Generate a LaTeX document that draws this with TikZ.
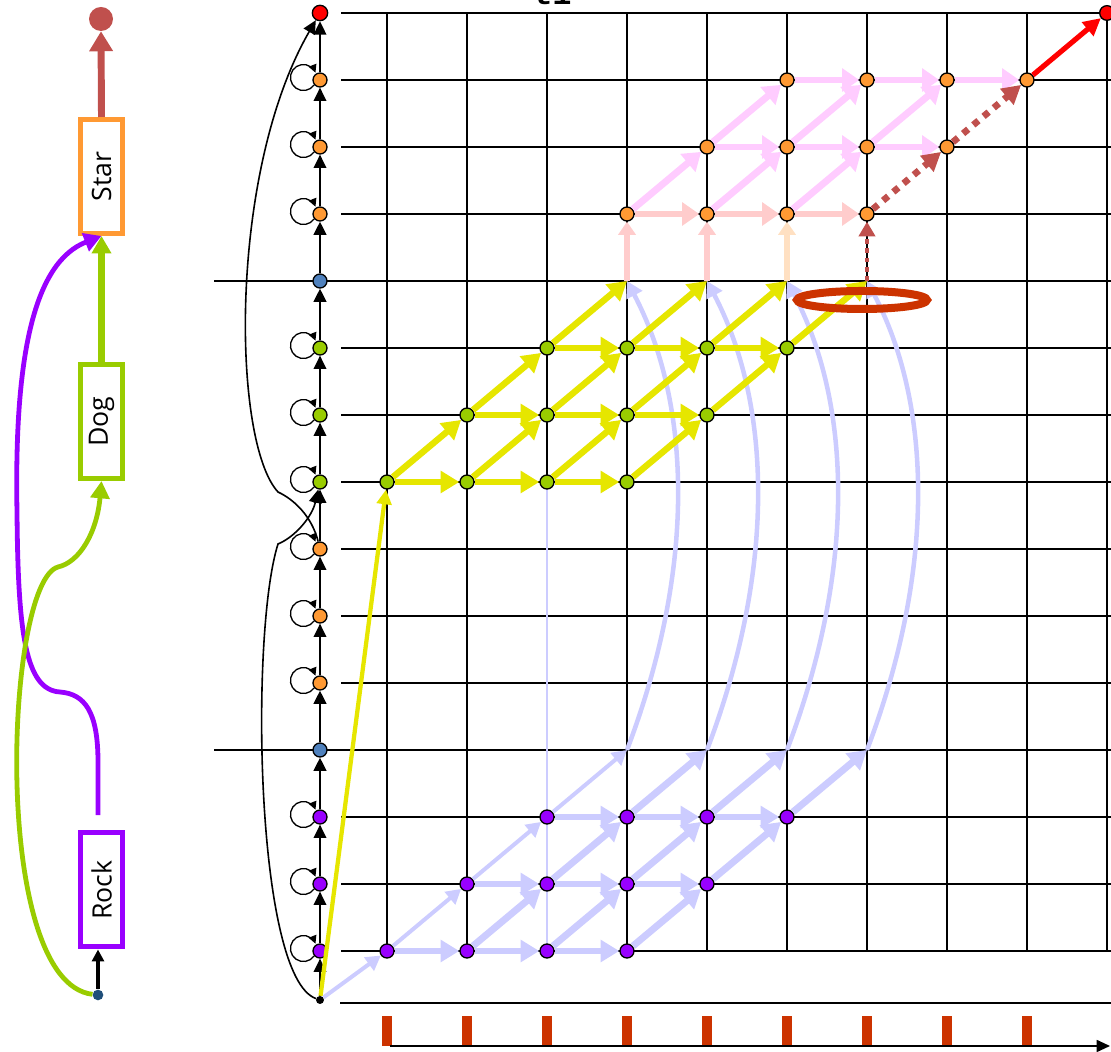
\documentclass[tikz,border=0pt]{standalone}
\usepackage{fontspec}
\setsansfont{Open Sans}
\newfontfamily\monofnt{Liberation Mono}
\usetikzlibrary{arrows.meta,calc}
\definecolor{cPurple}{HTML}{9900FF}
\definecolor{cGreen}{HTML}{99CC00}
\definecolor{cOrange}{HTML}{FF9933}
\definecolor{cBlue}{HTML}{4F81BD}
\definecolor{cLav}{HTML}{CCCCFF}
\definecolor{cYel}{HTML}{E6E600}
\definecolor{cSalmon}{HTML}{FFCCCC}
\definecolor{cPink}{HTML}{FFCCFF}
\definecolor{cPeach}{HTML}{FFE0C2}
\definecolor{cDkRed}{HTML}{C0504D}
\definecolor{cRust}{HTML}{CC3300}
\definecolor{cNavy}{HTML}{1F4E79}
\begin{document}
\begin{tikzpicture}[x=0.75pt,y=0.75pt,
  gl/.style={line width=1.3pt},
  dot/.style={circle,draw=black,line width=1pt,inner sep=0pt,minimum size=10.5pt},
  blk/.style={line width=1.2pt,-{Triangle[length=10pt,width=9.5pt]}},
  blkthick/.style={blk,line width=1.8pt},
  lp/.style={line width=1pt,-{Triangle[length=6pt,width=6pt]}},
  lav/.style={draw=cLav,line width=5.2pt,-{Triangle[length=14pt,width=16pt]}},
  lavthin/.style={draw=cLav,line width=3pt,-{Triangle[length=11pt,width=12pt]}},
  lavS/.style={draw=cLav,line width=3.4pt,-{Triangle[length=12pt,width=13pt]}},
  yel/.style={draw=cYel,line width=4.8pt,-{Triangle[length=14pt,width=16pt]}},
  yelthin/.style={draw=cYel,line width=3.2pt,-{Triangle[length=11pt,width=11pt]}},
  sal/.style={draw=cSalmon,line width=5.2pt,-{Triangle[length=13pt,width=17pt]}},
  salv/.style={line width=4.5pt,-{Triangle[length=10pt,width=13pt]}},
  pnk/.style={draw=cPink,line width=5.2pt,-{Triangle[length=13pt,width=17pt]}},
  dotd/.style={draw=cDkRed,line width=5pt,dash pattern=on 5pt off 5pt,-{Triangle[length=14pt,width=15pt]}},
  dotv/.style={draw=cDkRed,line width=3.5pt,dash pattern=on 3.5pt off 3.5pt,-{Triangle[length=11pt,width=12pt]}},
  boxst/.style={draw,line width=3.75pt,fill=white,inner sep=0pt,minimum width=31.5pt,minimum height=85.5pt}
]
\useasboundingbox (0,0) rectangle (1111,1052);

% title fragment
\node[anchor=base west,inner sep=0pt,font=\monofnt\bfseries\fontsize{24}{24}\selectfont] (t1) at (533,1047) {t1};

% grid
\foreach \rr in {0,1,2,4,5,6,7,8,9,11,12,13,14} \draw[gl] (341,{101+67*\rr}) -- (1111,{101+67*\rr});
\foreach \rr in {3,10} \draw[gl] (214,{101+67*\rr}) -- (1111,{101+67*\rr});
\foreach \k in {0,...,9} \draw[gl] ({387+80*\k},101) -- ({387+80*\k},1039);
\coordinate (vbot) at (547,101);
\coordinate (vtop) at (547,570);
\draw[cLav,line width=1.4pt] (vbot) -- (vtop);

% time axis
\draw[gl] (340,49) -- (1111,49);
\foreach \k in {0,...,8} \fill[cRust] ({387+80*\k-5},6) rectangle ({387+80*\k+5},36);
\draw[gl,-{Triangle[length=10pt,width=9pt]}] (390,6) -- (1110,6);

% left column nodes
\node[circle,fill=black,inner sep=0pt,minimum size=6pt] (L) at (320,52) {};
\foreach \rr/\cl in {0/cPurple,1/cPurple,2/cPurple,3/cBlue,4/cOrange,5/cOrange,6/cOrange,7/cGreen,8/cGreen,9/cGreen,10/cBlue,11/cOrange,12/cOrange,13/cOrange}
  \node[dot,fill=\cl] (L\rr) at (320,{101+67*\rr}) {};
\node[dot,fill=red,minimum size=11.5pt] (L14) at (320,1039) {};

% left column chain
\draw[blk] (L) -- (L0);
\draw[blk] (L0) -- (L1);
\draw[blk] (L1) -- (L2);
\draw[blkthick] (L2) -- (L3);
\draw[blkthick] (L3) -- (L4);
\draw[blk] (L4) -- (L5);
\draw[blk] (L5) -- (L6);
\draw[blk] (L6) -- (L7);
\draw[blk] (L7) -- (L8);
\draw[blk] (L8) -- (L9);
\draw[blkthick] (L9) -- (L10);
\draw[blkthick] (L10) -- (L11);
\draw[blk] (L11) -- (L12);
\draw[blk] (L12) -- (L13);
\draw[blk] (L13) -- (L14);
\foreach \rr in {0,1,2,4,5,6,7,8,9,11,12,13}
  \draw[lp] ([shift={(-5.9,-5)}]L\rr.center) arc[start angle=-35,end angle=-338,radius=13];
\draw[blk] (L) .. controls (255,75) and (250,420) .. (278,508) .. controls (295,515) and (312,535) .. (L7);
\draw[blk] (L6) .. controls (312,535) and (295,552) .. (278,560) .. controls (232,610) and (228,880) .. (L14);

% grid nodes
\foreach \k in {0,1,2}{\foreach \j in {1,...,4}{%
  \pgfmathtruncatemacro\cc{\k+\j}%
  \node[dot,fill=cPurple] (g-\cc-\k) at ({387+80*(\cc-1)},{101+67*\k}) {};}}
\foreach \k in {0,1,2}{\foreach \j in {1,...,4}{%
  \pgfmathtruncatemacro\cc{\k+\j}\pgfmathtruncatemacro\rr{7+\k}%
  \node[dot,fill=cGreen] (g-\cc-\rr) at ({387+80*(\cc-1)},{101+67*\rr}) {};}}
\foreach \k in {0,1,2}{\foreach \j in {1,...,4}{%
  \pgfmathtruncatemacro\cc{3+\k+\j}\pgfmathtruncatemacro\rr{11+\k}%
  \node[dot,fill=cOrange] (g-\cc-\rr) at ({387+80*(\cc-1)},{101+67*\rr}) {};}}
\node[dot,fill=red,minimum size=11pt] (g-10-14) at (1107,1039) {};
\foreach \cc in {4,...,7}{%
  \coordinate (g-\cc-3) at ({387+80*(\cc-1)},302);
  \coordinate (g-\cc-10) at ({387+80*(\cc-1)},771);}

% Rock lattice (lavender)
\draw[lavthin] (L) -- (g-1-0);
\foreach \k in {0,1,2}{%
  \foreach \j in {1,2,3}{\pgfmathtruncatemacro\aa{\k+\j}\pgfmathtruncatemacro\bb{\k+\j+1}%
    \draw[lav] (g-\aa-\k) -- (g-\bb-\k);}
  \foreach \j in {1,...,4}{\pgfmathtruncatemacro\aa{\k+\j}\pgfmathtruncatemacro\bb{\k+\j+1}\pgfmathtruncatemacro\kk{\k+1}%
    \ifnum\j=1 \draw[lavthin] (g-\aa-\k) -- (g-\bb-\kk);\else\draw[lav] (g-\aa-\k) -- (g-\bb-\kk);\fi}}
\foreach \cc in {4,...,7}
  \draw[lavS] (g-\cc-3) .. controls ($(g-\cc-3)+(72,190)$) and ($(g-\cc-10)+(62,-118)$) .. (g-\cc-10);

% Dog lattice (yellow)
\draw[yelthin] (L) -- (g-1-7);
\foreach \k in {0,1,2}{%
  \pgfmathtruncatemacro\rr{7+\k}\pgfmathtruncatemacro\kk{8+\k}%
  \foreach \j in {1,2,3}{\pgfmathtruncatemacro\aa{\k+\j}\pgfmathtruncatemacro\bb{\k+\j+1}%
    \draw[yel] (g-\aa-\rr) -- (g-\bb-\rr);}
  \foreach \j in {1,...,4}{\pgfmathtruncatemacro\aa{\k+\j}\pgfmathtruncatemacro\bb{\k+\j+1}%
    \draw[yel] (g-\aa-\rr) -- (g-\bb-\kk);}}

% Star lattice (pink)
\draw[salv,draw=cSalmon] (g-4-10) -- (g-4-11);
\draw[salv,draw=cSalmon] (g-5-10) -- (g-5-11);
\draw[salv,draw=cPeach] (g-6-10) -- (g-6-11);
\draw[dotv] (g-7-10) -- (g-7-11);
\foreach \aa/\bb in {4/5,5/6,6/7} \draw[sal] (g-\aa-11) -- (g-\bb-11);
\foreach \aa/\bb in {5/6,6/7,7/8} \draw[pnk] (g-\aa-12) -- (g-\bb-12);
\foreach \aa/\bb in {6/7,7/8,8/9} \draw[pnk] (g-\aa-13) -- (g-\bb-13);
\foreach \aa/\bb in {4/5,5/6,6/7} \draw[pnk] (g-\aa-11) -- (g-\bb-12);
\foreach \aa/\bb in {5/6,6/7,7/8} \draw[pnk] (g-\aa-12) -- (g-\bb-13);
\draw[dotd] (g-7-11) -- (g-8-12);
\draw[dotd] (g-8-12) -- (g-9-13);
\draw[red,line width=3.9pt,-{Triangle[length=13pt,width=13pt]}] (g-9-13) -- (g-10-14);

% highlight ellipse
\draw[cRust,line width=6pt] (862,752) ellipse [x radius=65,y radius=9];

% left schematic
\node[boxst,draw=cOrange] (star) at (101.5,875.5) {\rotatebox{90}{\sffamily\fontsize{20}{20}\selectfont Star}};
\node[boxst,draw=cGreen] (dog) at (101.5,630.5) {\rotatebox{90}{\sffamily\fontsize{20}{20}\selectfont Dog}};
\node[boxst,draw=cPurple] (rock) at (101.5,162) {\rotatebox{90}{\sffamily\fontsize{20}{20}\selectfont Rock}};
\node[circle,fill=cDkRed,inner sep=0pt,minimum size=18pt] (fin) at (101,1033) {};
\node[circle,fill=cNavy,inner sep=0pt,minimum size=8pt] (src) at (98,57) {};
\draw[cDkRed,line width=5.2pt,-{Triangle[length=15pt,width=17pt]}] (star.north) -- (fin.south);
\draw[cGreen,line width=4.6pt,-{Triangle[length=13pt,width=14pt]}] (dog.north) -- (star.south);
\draw[line width=3pt,-{Triangle[length=9pt,width=9pt]}] (src) -- (src |- rock.south);
\draw[cPurple,line width=3.6pt,-{Triangle[length=13pt,width=14pt]}] ([yshift=11.5pt]rock.north -| src) -- (98,290) .. controls (98,340) and (85,358) .. (60,360) .. controls (25,362) and (18,420) .. (17,540) .. controls (14,700) and (35,790) .. (star.south);
\draw[cGreen,line width=3.6pt,-{Triangle[length=13pt,width=14pt]}] (src) .. controls (-10,70) and (5,470) .. (58,485) .. controls (80,490) and (97,520) .. (dog.south);
\end{tikzpicture}
\end{document}
